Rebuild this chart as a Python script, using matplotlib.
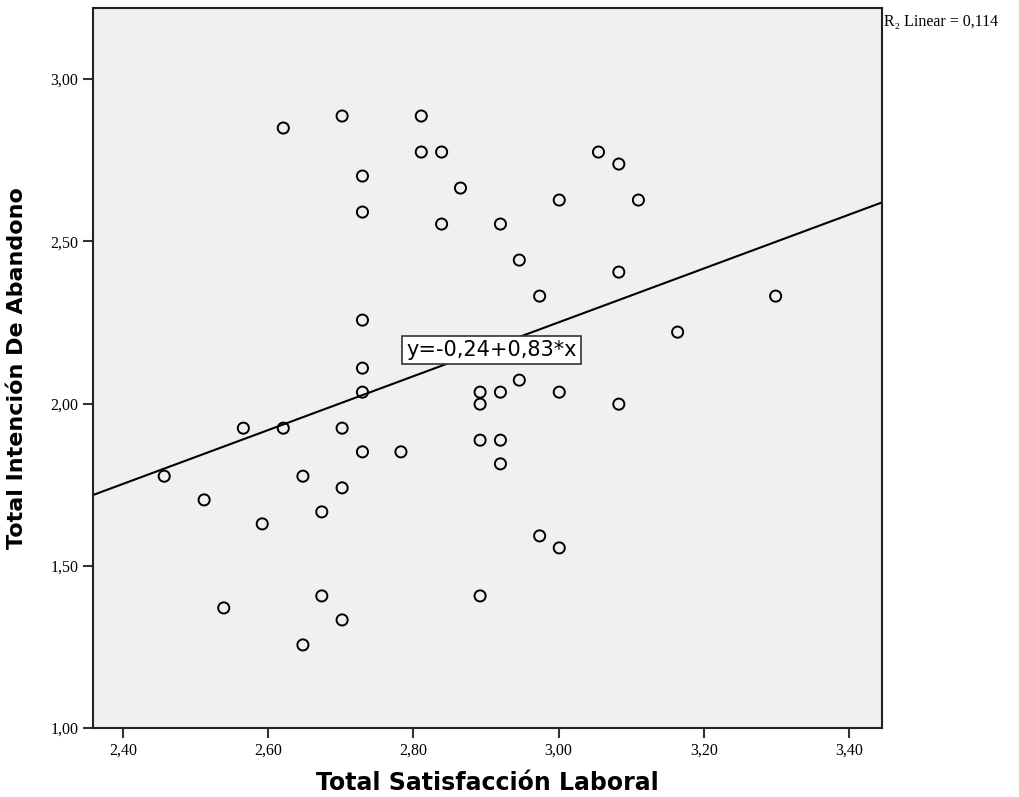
import matplotlib
matplotlib.use("Agg")
import matplotlib.pyplot as plt
import numpy as np

# Total Satisfaccion Laboral vs Total Intencion De Abandono
satisfaccion = [2.457, 2.512, 2.539, 2.566, 2.592, 2.621, 2.621, 2.648, 2.648,
                2.674, 2.674, 2.702, 2.702, 2.702, 2.702, 2.730, 2.730, 2.730,
                2.730, 2.730, 2.730, 2.783, 2.811, 2.811, 2.839, 2.839, 2.865,
                2.892, 2.892, 2.892, 2.892, 2.920, 2.920, 2.920, 2.920, 2.946,
                2.946, 2.974, 2.974, 3.001, 3.001, 3.001, 3.055, 3.083, 3.083,
                3.083, 3.110, 3.164, 3.299]
abandono = [1.776, 1.703, 1.370, 1.924, 1.629, 1.924, 2.849, 1.776, 1.256,
            1.666, 1.407, 2.886, 1.924, 1.740, 1.333, 2.701, 2.590, 2.257,
            2.109, 2.035, 1.851, 1.851, 2.886, 2.775, 2.775, 2.553, 2.664,
            2.035, 1.998, 1.887, 1.407, 2.553, 2.035, 1.887, 1.814, 2.442,
            2.072, 2.331, 1.592, 2.627, 2.035, 1.555, 2.775, 2.738, 2.405,
            1.998, 2.627, 2.220, 2.331]

intercept = -0.24
slope = 0.83
xticks = [2.40, 2.60, 2.80, 3.00, 3.20, 3.40]
yticks = [1.00, 1.50, 2.00, 2.50, 3.00]

fig = plt.figure(figsize=(10.19, 7.97), dpi=100)
ax = fig.add_axes([0.0913, 0.0866, 0.7743, 0.9034])
ax.set_facecolor("#f0f0f0")

ax.scatter(satisfaccion, abandono, s=64, facecolors="none", edgecolors="black",
           linewidths=1.4, zorder=3)

xmin, xmax = 2.359, 3.4455
xl = np.array([xmin, xmax])
ax.plot(xl, intercept + slope * xl, color="black", lw=1.5, zorder=2)

ax.set_xlim(xmin, xmax)
ax.set_ylim(1.0, 3.219)
ax.set_xticks(xticks)
ax.set_yticks(yticks)
ax.set_xticklabels([("%.2f" % v).replace(".", ",") for v in xticks],
                   fontfamily="Liberation Serif", fontsize=11.5)
ax.set_yticklabels([("%.2f" % v).replace(".", ",") for v in yticks],
                   fontfamily="Liberation Serif", fontsize=11.5)
ax.tick_params(direction="out", length=7, width=1.5, color="#333333")
for s in ax.spines.values():
    s.set_linewidth(1.5)
    s.set_color("#222222")

ax.set_xlabel("Total Satisfacción Laboral", fontsize=17, fontweight="bold",
              labelpad=9)
ax.set_ylabel("Total Intención De Abandono", fontsize=16, fontweight="bold",
              labelpad=17)

ax.text(2.908, 2.165, "y=-0,24+0,83*x", fontsize=15, ha="center", va="center",
        bbox=dict(boxstyle="square,pad=0.2", facecolor="white",
                  edgecolor="#333333", lw=1.2), zorder=4)

fig.text(0.868, 0.972, "R\u2082 Linear = 0,114", fontfamily="Liberation Serif",
         fontsize=11.5, ha="left", va="center")

fig.savefig("out.png", dpi=100)
